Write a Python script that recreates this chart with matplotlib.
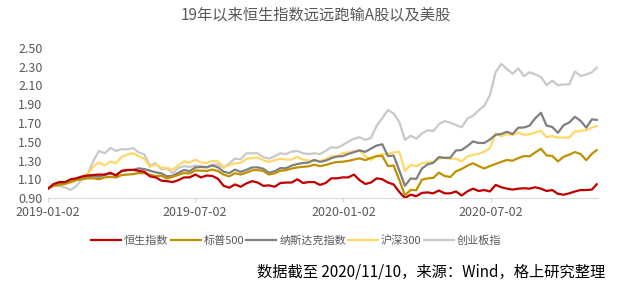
import matplotlib
matplotlib.use("Agg")
import matplotlib.pyplot as plt
import pandas as pd

plt.rcParams['font.family'] = ['Noto Sans CJK SC', 'DejaVu Sans']

# weekly samples (normalised to 2019-01-02 = 1)
dates = list(pd.date_range('2019-01-02', periods=97, freq='7D')) + [pd.Timestamp('2020-11-10')]

hsi = [1.00, 1.05, 1.07, 1.07, 1.10, 1.11, 1.13, 1.14, 1.145, 1.15,
       1.15, 1.17, 1.14, 1.19, 1.20, 1.20, 1.19, 1.18, 1.13, 1.12,
       1.085, 1.08, 1.07, 1.09, 1.12, 1.12, 1.15, 1.12, 1.14, 1.135,
       1.105, 1.03, 1.01, 1.045, 1.02, 1.055, 1.08, 1.065, 1.03, 1.035,
       1.02, 1.06, 1.065, 1.065, 1.10, 1.06, 1.07, 1.07, 1.04, 1.06,
       1.11, 1.11, 1.12, 1.12, 1.15, 1.09, 1.05, 1.065, 1.11, 1.10,
       1.065, 1.045, 0.965, 0.90, 0.936, 0.92, 0.955, 0.96, 0.95, 0.98,
       0.95, 0.95, 0.97, 0.927, 0.97, 1.00, 0.975, 0.985, 0.97, 1.04,
       1.015, 1.00, 0.99, 1.00, 1.004, 1.00, 1.015, 1.00, 0.975, 0.985,
       0.945, 0.935, 0.95, 0.97, 0.985, 0.985, 0.99, 1.047]

spx = [1.00, 1.03, 1.04, 1.05, 1.07, 1.09, 1.10, 1.11, 1.11, 1.10,
       1.12, 1.125, 1.12, 1.145, 1.15, 1.155, 1.166, 1.165, 1.147, 1.135,
       1.138, 1.109, 1.126, 1.147, 1.166, 1.161, 1.194, 1.192, 1.189, 1.203,
       1.187, 1.149, 1.131, 1.165, 1.15, 1.17, 1.195, 1.198, 1.189, 1.15,
       1.163, 1.191, 1.197, 1.214, 1.226, 1.233, 1.238, 1.256, 1.24, 1.252,
       1.271, 1.284, 1.287, 1.296, 1.31, 1.323, 1.304, 1.328, 1.346, 1.349,
       1.241, 1.247, 1.092, 0.93, 0.986, 0.984, 1.096, 1.109, 1.115, 1.171,
       1.135, 1.124, 1.184, 1.21, 1.244, 1.271, 1.241, 1.215, 1.241, 1.263,
       1.286, 1.305, 1.298, 1.326, 1.347, 1.345, 1.386, 1.426, 1.354, 1.349,
       1.29, 1.34, 1.362, 1.39, 1.369, 1.303, 1.372, 1.412]

ndx = [1.00, 1.044, 1.055, 1.054, 1.078, 1.107, 1.113, 1.124, 1.133, 1.126,
       1.147, 1.159, 1.147, 1.185, 1.195, 1.20, 1.216, 1.208, 1.192, 1.174,
       1.163, 1.132, 1.137, 1.169, 1.198, 1.187, 1.226, 1.231, 1.228, 1.248,
       1.227, 1.18, 1.166, 1.203, 1.179, 1.20, 1.226, 1.227, 1.212, 1.168,
       1.186, 1.219, 1.218, 1.246, 1.262, 1.273, 1.279, 1.306, 1.285, 1.298,
       1.324, 1.343, 1.346, 1.37, 1.389, 1.408, 1.392, 1.427, 1.459, 1.473,
       1.347, 1.353, 1.193, 1.03, 1.108, 1.104, 1.214, 1.259, 1.275, 1.337,
       1.328, 1.33, 1.407, 1.412, 1.453, 1.503, 1.487, 1.487, 1.524, 1.574,
       1.583, 1.606, 1.582, 1.65, 1.652, 1.672, 1.75, 1.809, 1.672, 1.658,
       1.595, 1.676, 1.705, 1.766, 1.723, 1.651, 1.739, 1.733]

hs300 = [1.00, 1.037, 1.052, 1.064, 1.067, 1.094, 1.127, 1.16, 1.236, 1.28,
         1.248, 1.288, 1.272, 1.338, 1.364, 1.378, 1.345, 1.318, 1.231, 1.261,
         1.223, 1.221, 1.202, 1.25, 1.29, 1.278, 1.309, 1.279, 1.274, 1.293,
         1.292, 1.227, 1.25, 1.27, 1.274, 1.318, 1.327, 1.332, 1.302, 1.285,
         1.305, 1.318, 1.31, 1.309, 1.34, 1.31, 1.30, 1.296, 1.296, 1.314,
         1.347, 1.342, 1.38, 1.385, 1.398, 1.41, 1.347, 1.305, 1.351, 1.367,
         1.372, 1.386, 1.391, 1.19, 1.254, 1.238, 1.27, 1.28, 1.286, 1.318,
         1.331, 1.318, 1.319, 1.29, 1.342, 1.362, 1.37, 1.394, 1.43, 1.591,
         1.559, 1.582, 1.571, 1.599, 1.573, 1.58, 1.597, 1.618, 1.549, 1.561,
         1.544, 1.545, 1.545, 1.609, 1.616, 1.624, 1.652, 1.667]

chinext = [1.00, 1.034, 1.03, 1.012, 0.986, 1.027, 1.104, 1.157, 1.296, 1.402,
           1.377, 1.434, 1.402, 1.422, 1.418, 1.434, 1.386, 1.365, 1.247, 1.271,
           1.206, 1.214, 1.165, 1.222, 1.239, 1.231, 1.247, 1.239, 1.227, 1.255,
           1.259, 1.222, 1.271, 1.32, 1.312, 1.377, 1.377, 1.377, 1.337, 1.32,
           1.345, 1.377, 1.369, 1.394, 1.402, 1.377, 1.369, 1.377, 1.369, 1.402,
           1.442, 1.434, 1.465, 1.50, 1.532, 1.548, 1.52, 1.54, 1.67, 1.752,
           1.84, 1.80, 1.711, 1.52, 1.565, 1.532, 1.589, 1.622, 1.614, 1.687,
           1.72, 1.703, 1.679, 1.654, 1.744, 1.777, 1.834, 1.883, 1.997, 2.241,
           2.33, 2.274, 2.225, 2.282, 2.2, 2.241, 2.217, 2.192, 2.103, 2.152,
           2.103, 2.111, 2.111, 2.249, 2.2, 2.217, 2.241, 2.29]

names = ['恒生指数', '标普500', '纳斯达克指数', '沪深300', '创业板指']
series = [hsi, spx, ndx, hs300, chinext]
colors = ['#C00000', '#BF9000', '#7F7F7F', '#FFD966', '#C9C9C9']

yticks = [0.90, 1.10, 1.30, 1.50, 1.70, 1.90, 2.10, 2.30, 2.50]
xticks = ['2019-01-02', '2019-07-02', '2020-01-02', '2020-07-02']

fig = plt.figure(figsize=(6.37, 2.96), dpi=100)
ax = fig.add_axes([0.0754, 0.331, 0.864, 0.507])

lines = {}
# draw light lines first so the red one ends up on top
for i in reversed(range(len(series))):
    lines[i], = ax.plot(dates, series[i], color=colors[i], lw=1.6, label=names[i])

ax.set_ylim(0.90, 2.50)
ax.set_xlim(pd.Timestamp('2019-01-02'), pd.Timestamp('2020-11-12'))
ax.set_yticks(yticks)
ax.set_yticklabels(['%.2f' % v for v in yticks])
ax.set_xticks([pd.Timestamp(d) for d in xticks])
ax.set_xticklabels(xticks)

for s in ['top', 'right', 'left']:
    ax.spines[s].set_visible(False)
ax.spines['bottom'].set_color('#D9D9D9')
ax.tick_params(axis='y', length=0, labelsize=9, colors='#595959', pad=4)
ax.tick_params(axis='x', length=3, color='#D9D9D9', labelsize=9, labelcolor='#595959', pad=3)

fig.text(0.495, 0.948, '19年以来恒生指数远远跑输A股以及美股', ha='center', va='center',
         fontsize=11, color='#595959')

fig.legend([lines[i] for i in range(len(series))], names, loc='center',
           bbox_to_anchor=(0.465, 0.186), ncol=5, frameon=False,
           fontsize=8, handlelength=2.7, handletextpad=0.25, columnspacing=0.2,
           labelcolor='#595959')

fig.text(0.95, 0.08, '数据截至 2020/11/10，来源：Wind，格上研究整理', ha='right', va='center',
         fontsize=11, color='#000000')

fig.savefig('out.png', dpi=100)
